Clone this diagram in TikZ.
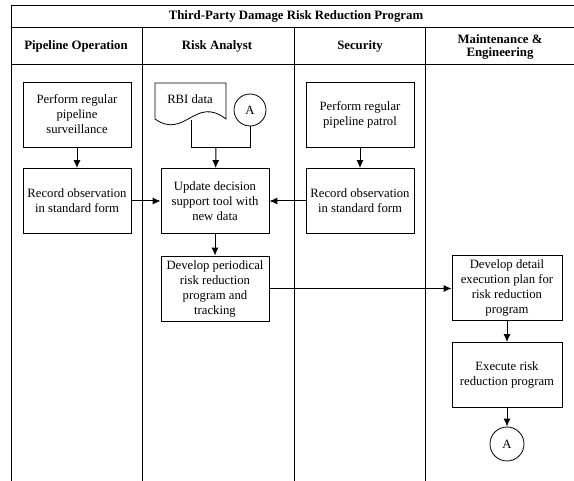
\documentclass[tikz,border=0pt]{standalone}
\usepackage{fontspec}
\setmainfont{Liberation Serif}
\usepackage{tikz}
\usetikzlibrary{arrows.meta}

\begin{document}
\begin{tikzpicture}[x=1pt,y=-1pt]

\tikzset{stepbox/.style = {shape=rectangle,draw,line width=0.8pt,align=center,
  minimum width=108pt,minimum height=65pt,inner sep=1pt,font=\fontsize{12.7}{15}\selectfont}}
\tikzset{conn/.style = {shape=circle,draw,line width=0.8pt,minimum size=32pt,inner sep=0pt,
  font=\fontsize{12.7}{15}\selectfont}}
\tikzset{lanehead/.style = {align=center,font=\fontsize{12.8}{13}\selectfont\bfseries}}
\tikzset{arc/.style = {-{Latex[length=8pt,width=7pt]},line width=1pt}}

\useasboundingbox (0,0) rectangle (574,481);
\clip (0,0) rectangle (574,481);

% lanes
\draw[line width=0.8pt] (11,490) -- (11,5) -- (590,5) -- (590,490);
\draw[line width=0.8pt] (11,27) -- (590,27);
\draw[line width=0.8pt] (11,64) -- (590,64);
\draw[line width=0.8pt] (142,27) -- (142,490);
\draw[line width=0.8pt] (294,27) -- (294,490);
\draw[line width=0.8pt] (425,27) -- (425,490);

% labels
\node[lanehead] (title) at (296,16) {Third-Party Damage Risk Reduction Program};
\node[lanehead] (po) at (76,46) {Pipeline Operation};
\node[lanehead] (ra) at (217,46) {Risk Analyst};
\node[lanehead] (sec) at (360,46) {Security};
\node[lanehead] (me) at (500,47) {Maintenance \&\\Engineering};

% steps
\node[stepbox] (surv) at (77,114.5) {Perform regular\\pipeline\\surveillance};
\node[stepbox] (recpo) at (77,201) {Record observation\\in standard form};
\node[stepbox] (upd) at (215,201) {Update decision\\support tool with\\new data};
\node[stepbox] (dev) at (215,288.5) {Develop periodical\\risk reduction\\program and\\tracking};
\node[stepbox] (patrol) at (360,114.5) {Perform regular\\pipeline patrol};
\node[stepbox] (recsec) at (360,201) {Record observation\\in standard form};
\node[stepbox,minimum width=110pt] (plan) at (507,288) {Develop detail\\execution plan for\\risk reduction\\program};
\node[stepbox,minimum width=110pt] (exec) at (507,375) {Execute risk\\reduction program};

% data and connectors
\draw[line width=0.8pt] (155,83) -- (226,83) -- (226,119)
  .. controls (195,95) and (185,140) .. (155,119) -- cycle;
\node[font=\fontsize{12.7}{15}\selectfont] (rbi) at (190,99) {RBI data};
\coordinate (rbiout) at (191,120);
\coordinate (join) at (216,147);
\node[conn] (ca1) at (250,110) {A};
\node[conn,minimum size=34pt] (ca2) at (507,444) {A};

% arcs
\draw[arc] (surv) to (recpo);
\draw[arc] (patrol) to (recsec);
\draw[line width=0.8pt] (rbiout) |- (join);
\draw[line width=0.8pt] (ca1) |- (join);
\draw[arc] (join) to (upd);
\draw[arc] (recpo) to (upd);
\draw[arc] (recsec) to (upd);
\draw[arc] (upd) to (dev);
\draw[arc] (dev) to (plan.west |- dev);
\draw[arc] (plan) to (exec);
\draw[arc] (exec) to (ca2);

\end{tikzpicture}
\end{document}
